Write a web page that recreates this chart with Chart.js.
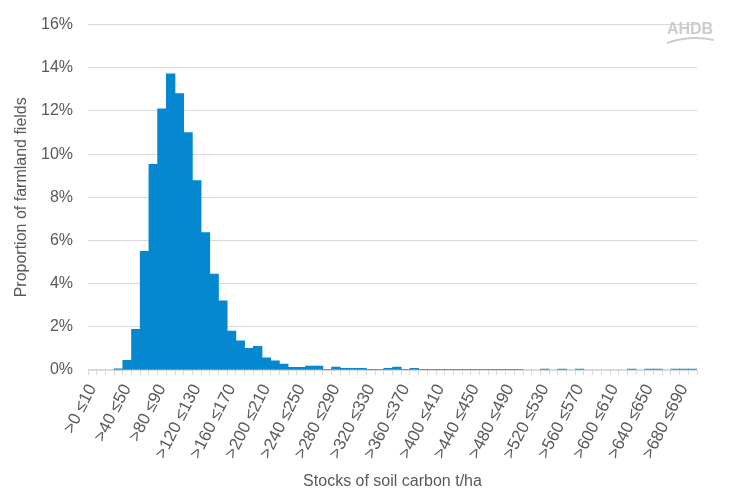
<!DOCTYPE html>
<html lang="en">
<head>
<meta charset="utf-8">
<title>Stocks of soil carbon</title>
<script src="https://cdn.jsdelivr.net/npm/chart.js@4.4.1/dist/chart.umd.min.js"></script>
<style>
  html, body { margin: 0; padding: 0; background: #ffffff; }
  #wrap { width: 732px; height: 504px; position: relative; }
</style>
</head>
<body>
<div id="wrap"><canvas id="soilChart" width="732" height="504"></canvas></div>
<script>
/* =============================================
   Soil carbon stock histogram (share of fields)
   ============================================= */

// categories: 10 t/ha bins, 0 - 700
const categories = [
  ">0 ≤10", ">10 ≤20", ">20 ≤30", ">30 ≤40", ">40 ≤50", ">50 ≤60", ">60 ≤70", ">70 ≤80", ">80 ≤90", ">90 ≤100",
  ">100 ≤110", ">110 ≤120", ">120 ≤130", ">130 ≤140", ">140 ≤150", ">150 ≤160", ">160 ≤170", ">170 ≤180", ">180 ≤190", ">190 ≤200",
  ">200 ≤210", ">210 ≤220", ">220 ≤230", ">230 ≤240", ">240 ≤250", ">250 ≤260", ">260 ≤270", ">270 ≤280", ">280 ≤290", ">290 ≤300",
  ">300 ≤310", ">310 ≤320", ">320 ≤330", ">330 ≤340", ">340 ≤350", ">350 ≤360", ">360 ≤370", ">370 ≤380", ">380 ≤390", ">390 ≤400",
  ">400 ≤410", ">410 ≤420", ">420 ≤430", ">430 ≤440", ">440 ≤450", ">450 ≤460", ">460 ≤470", ">470 ≤480", ">480 ≤490", ">490 ≤500",
  ">500 ≤510", ">510 ≤520", ">520 ≤530", ">530 ≤540", ">540 ≤550", ">550 ≤560", ">560 ≤570", ">570 ≤580", ">580 ≤590", ">590 ≤600",
  ">600 ≤610", ">610 ≤620", ">620 ≤630", ">630 ≤640", ">640 ≤650", ">650 ≤660", ">660 ≤670", ">670 ≤680", ">680 ≤690", ">690 ≤700",
];

// proportion of farmland fields (%) per bin
const fieldShare = [
  0, 0, 0, 0.05, 0.45, 1.88, 5.5, 9.53, 12.1, 13.72,
  12.8, 11.0, 8.77, 6.37, 4.44, 3.2, 1.8, 1.35, 1.0, 1.1,
  0.56, 0.42, 0.28, 0.12, 0.12, 0.18, 0.18, 0.02, 0.13, 0.08,
  0.08, 0.08, 0.02, 0.02, 0.08, 0.14, 0.02, 0.08, 0.03, 0.03,
  0.03, 0.03, 0.03, 0.03, 0.03, 0.03, 0.03, 0.03, 0.03, 0.03,
  0, 0, 0.04, 0, 0.04, 0, 0.04, 0, 0, 0,
  0, 0, 0.04, 0, 0.04, 0.04, 0, 0.04, 0.04, 0.04,
];

// y axis ticks (%)
const yTicks = [0, 2, 4, 6, 8, 10, 12, 14, 16];

const textGray = "#595959";
const gridGray = "#d9d9d9";
const barBlue = "#0588cf";

// AHDB logo in the top-right corner
const logoPlugin = {
  id: "ahdbLogo",
  afterDraw(chart) {
    const ctx = chart.ctx;
    ctx.save();
    ctx.fillStyle = "#cccccc";
    ctx.font = "bold 16px 'Liberation Sans', Arial, sans-serif";
    ctx.textAlign = "center";
    ctx.textBaseline = "middle";
    ctx.fillText("AHDB", 690, 30);
    // swoosh under the letters
    ctx.strokeStyle = "#cccccc";
    ctx.lineWidth = 2;
    ctx.beginPath();
    ctx.moveTo(667, 43);
    ctx.quadraticCurveTo(690, 35, 714, 40);
    ctx.stroke();
    ctx.restore();
  },
};

Chart.defaults.font.family = "'Liberation Sans', Arial, sans-serif";
Chart.defaults.color = textGray;

const canvas = document.getElementById("soilChart");

new Chart(canvas, {
  type: "bar",
  data: {
    labels: categories,
    datasets: [
      {
        label: "Proportion of farmland fields",
        data: fieldShare,
        backgroundColor: barBlue,
        borderWidth: 0,
        barPercentage: 1,
        categoryPercentage: 1,
      },
    ],
  },
  options: {
    responsive: false,
    animation: false,
    layout: { padding: { left: 0, top: 15, right: 35, bottom: 0 } },
    plugins: {
      legend: { display: false },
      tooltip: { enabled: false },
    },
    scales: {
      x: {
        afterFit: (scale) => { scale.height = 134; },
        grid: {
          offset: true,
          drawOnChartArea: false,
          drawTicks: true,
          tickLength: 5,
          color: gridGray,
        },
        border: { color: gridGray },
        ticks: {
          autoSkip: false,
          minRotation: 63,
          maxRotation: 63,
          padding: 6,
          font: { size: 17 },
          color: textGray,
          callback: (value, index) => (index % 4 === 0 ? categories[index] : ""),
        },
        title: {
          display: true,
          text: "Stocks of soil carbon t/ha",
          font: { size: 16 },
          color: textGray,
          padding: { top: 0, bottom: 13 },
        },
      },
      y: {
        min: 0,
        max: 16,
        afterFit: (scale) => { scale.width = 88; },
        afterBuildTicks: (scale) => {
          scale.ticks = yTicks.map((v) => ({ value: v }));
        },
        grid: { color: gridGray, drawTicks: false },
        border: { display: false },
        ticks: {
          padding: 15,
          font: { size: 16 },
          color: textGray,
          callback: (value) => value + "%",
        },
        title: {
          display: true,
          text: "Proportion of farmland fields",
          font: { size: 16 },
          color: textGray,
          padding: { top: 12, bottom: 0 },
        },
      },
    },
  },
  plugins: [logoPlugin],
});
</script>
</body>
</html>
